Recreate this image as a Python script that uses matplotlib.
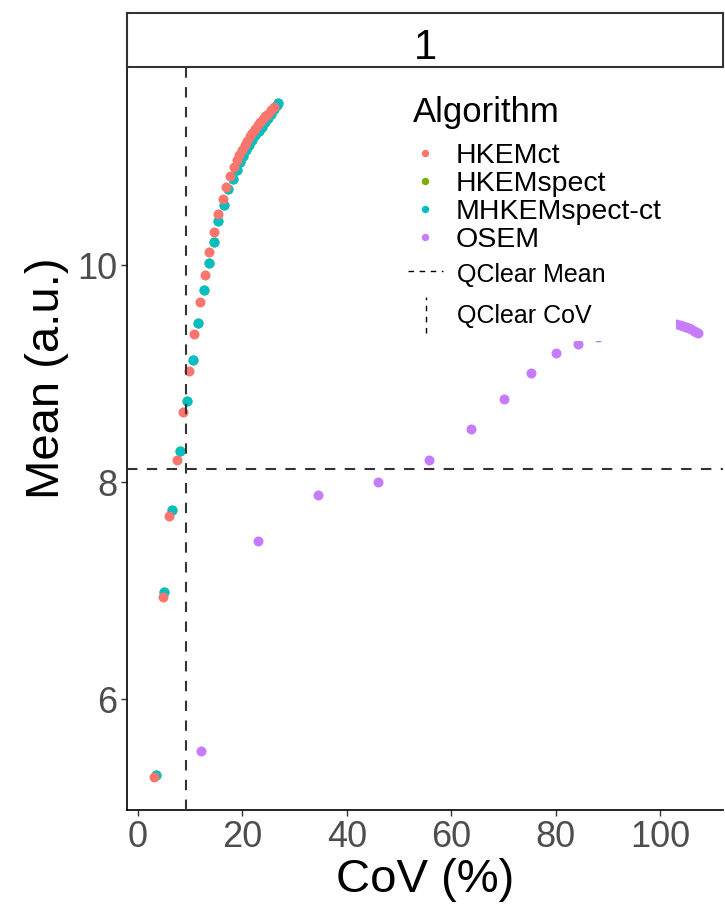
import matplotlib
matplotlib.use("Agg")
import matplotlib.pyplot as plt
from matplotlib.lines import Line2D
from matplotlib.patches import Rectangle
from matplotlib.legend_handler import HandlerBase

plt.rcParams["font.family"] = ["Liberation Sans", "DejaVu Sans"]

# CoV (%) and mean (a.u.) per iteration for each algorithm
hkemct_cov = [3.1, 4.7, 6.0, 7.5, 8.7, 9.7, 10.8, 11.8, 12.9, 13.6, 14.6, 15.3,
              16.2, 16.9, 17.6, 18.4, 18.9, 19.4, 19.9, 20.4, 20.9, 21.4, 21.9,
              22.4, 22.9, 23.4, 23.9, 24.4, 24.9, 25.4, 26.0]
hkemct_mean = [5.28, 6.94, 7.69, 8.21, 8.65, 9.03, 9.37, 9.66, 9.91, 10.12, 10.31,
               10.47, 10.61, 10.72, 10.82, 10.91, 10.97, 11.02, 11.06, 11.11, 11.15,
               11.19, 11.22, 11.26, 11.29, 11.32, 11.35, 11.38, 11.40, 11.43, 11.46]

mhkem_cov = [3.4, 5.0, 6.6, 8.0, 9.3, 10.5, 11.5, 12.6, 13.6, 14.6, 15.4, 16.4,
             17.2, 18.2, 18.9, 19.5, 20.1, 20.7, 21.3, 21.9, 22.5, 23.1, 23.7,
             24.3, 24.9, 25.5, 26.1, 26.6, 26.9]
mhkem_mean = [5.30, 6.99, 7.75, 8.29, 8.75, 9.13, 9.47, 9.77, 10.02, 10.22, 10.41,
              10.56, 10.70, 10.80, 10.88, 10.95, 11.01, 11.06, 11.11, 11.16, 11.20,
              11.24, 11.28, 11.32, 11.36, 11.40, 11.44, 11.48, 11.50]

hkemspect_cov = [3.4, 5.0, 6.6, 8.0, 9.3, 10.5, 11.5, 12.6, 13.6, 14.6, 15.4, 16.4,
                 17.2, 18.2, 18.9, 19.5, 20.1, 20.7, 21.3, 21.9, 22.5, 23.1, 23.7,
                 24.3, 24.9, 25.5, 26.1, 26.6, 26.9]
hkemspect_mean = [5.30, 6.99, 7.75, 8.29, 8.75, 9.13, 9.47, 9.77, 10.02, 10.22, 10.41,
                  10.56, 10.70, 10.80, 10.88, 10.95, 11.01, 11.06, 11.11, 11.16, 11.20,
                  11.24, 11.28, 11.32, 11.36, 11.40, 11.44, 11.48, 11.50]

osem_cov = [12.0, 23.0, 34.4, 45.9, 55.7, 63.8, 70.0, 75.3, 80.1, 84.3, 88.0, 90.5,
            92.5, 94.5, 96.0, 97.5, 99.0, 100.2, 101.5, 102.3, 103.0, 103.7, 104.3,
            104.9, 105.4, 105.9, 106.4, 106.8, 107.2]
osem_mean = [5.52, 7.46, 7.88, 8.00, 8.21, 8.49, 8.77, 9.01, 9.19, 9.28, 9.34, 9.38,
             9.41, 9.43, 9.45, 9.46, 9.47, 9.47, 9.47, 9.47, 9.46, 9.45, 9.44,
             9.43, 9.42, 9.41, 9.40, 9.39, 9.38]

qclear_mean = 8.12
qclear_cov = 9.1

algorithms = ["HKEMct", "HKEMspect", "MHKEMspect-ct", "OSEM"]
colors = {"HKEMct": "#F8766D", "HKEMspect": "#7CAE00",
          "MHKEMspect-ct": "#00BFC4", "OSEM": "#C77CFF"}
series = {"HKEMct": (hkemct_cov, hkemct_mean),
          "HKEMspect": (hkemspect_cov, hkemspect_mean),
          "MHKEMspect-ct": (mhkem_cov, mhkem_mean),
          "OSEM": (osem_cov, osem_mean)}
draw_order = ["HKEMspect", "MHKEMspect-ct", "HKEMct", "OSEM"]


class VLineHandler(HandlerBase):
    # legend key drawn as a vertical line
    def create_artists(self, legend, orig_handle, xdescent, ydescent,
                       width, height, fontsize, trans):
        xc = width / 2 - xdescent
        ln = Line2D([xc, xc], [-ydescent - 0.15 * height, height - ydescent + 0.15 * height])
        ln.update_from(orig_handle)
        ln.set_transform(trans)
        return [ln]


W, H = 725, 913
fig = plt.figure(figsize=(W / 100, H / 100), dpi=100)
ax = fig.add_axes([127 / W, 1 - 810 / H, 596 / W, 742 / H])
strip = fig.add_axes([127 / W, 1 - 67 / H, 596 / W, 54 / H])

for name in draw_order:
    x, y = series[name]
    ax.plot(x, y, "o", color=colors[name], markersize=7.2, markeredgewidth=0, zorder=2)

line_col = "#333333"
ax.axhline(qclear_mean, color=line_col, lw=1.5, dashes=(5, 4.5), zorder=3)
ax.axvline(qclear_cov, color=line_col, lw=1.5, dashes=(5, 4.5), zorder=3)

ax.set_xlim(-2.1, 112)
ax.set_ylim(4.98, 11.82)
ax.set_xticks([0, 20, 40, 60, 80, 100])
ax.set_yticks([6, 8, 10])
for s in ["top", "right"]:
    ax.spines[s].set_visible(False)
for s in ["left", "bottom"]:
    ax.spines[s].set_linewidth(1.2)
ax.tick_params(length=4, width=1, color="#333333", labelsize=26,
               labelcolor="#4D4D4D", pad=3)
ax.set_xlabel("CoV (%)", fontsize=34, labelpad=2)
ax.set_ylabel("Mean (a.u.)", fontsize=34, labelpad=6, y=0.582)

# white backdrop behind the legends
ax.add_patch(Rectangle((0.458, 0.632), 0.463, 0.345, transform=ax.transAxes,
                       facecolor="white", edgecolor="none", zorder=4))

alg_handles = [Line2D([], [], marker="o", ls="", color=colors[a], markersize=4.3)
               for a in algorithms]
leg1 = ax.legend(alg_handles, algorithms, title="Algorithm", loc="upper left",
                 bbox_to_anchor=((413 - 127) / 596, 0.962), borderaxespad=0,
                 frameon=False, fontsize=20.5, title_fontsize=25, alignment="left",
                 borderpad=0, handlelength=0.84, handletextpad=0.67,
                 labelspacing=0.07)
leg1._legend_box.sep = 10
leg1.set_zorder(5)
ax.add_artist(leg1)

mean_key = Line2D([], [], color="black", lw=1.0, dashes=(4, 4))
cov_key = Line2D([], [], color="black", lw=1.0, dashes=(4, 4))
leg2 = ax.legend([mean_key, cov_key], ["QClear Mean", "QClear CoV"],
                 loc="upper left", bbox_to_anchor=((408 - 127) / 596, 0.741),
                 borderaxespad=0, frameon=False, fontsize=18, borderpad=0,
                 handlelength=1.4, handletextpad=0.56, handleheight=1.3,
                 labelspacing=0.55, handler_map={cov_key: VLineHandler()})
leg2.set_zorder(5)

# facet strip
strip.set_xticks([])
strip.set_yticks([])
for s in strip.spines.values():
    s.set_linewidth(1.5)
    s.set_color("#333333")
strip.text(0.5, 0.36, "1", ha="center", va="center", fontsize=30,
           transform=strip.transAxes)

fig.savefig("out.png", dpi=100)
